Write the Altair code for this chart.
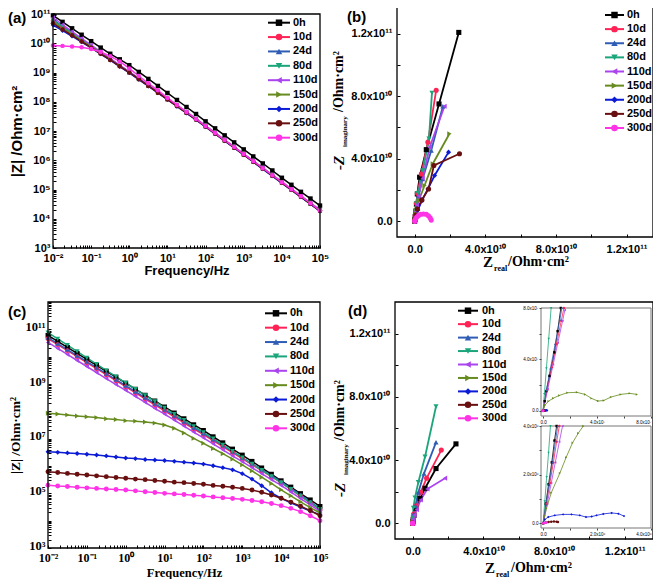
import altair as alt
import pandas as pd

W, H = 645, 571
SANS = "Liberation Sans"
SERIF = "Liberation Serif"

SERIES = ["0h", "10d", "24d", "80d", "110d", "150d", "200d", "250d", "300d"]
COLORS = ["#000000", "#FF2255", "#2F5DB5", "#1BA57B", "#AA44EE", "#668B1E", "#0B1BD6", "#6A0F0F", "#FF33E6"]
SHAPES = ["square", "circle", "triangle-up", "triangle-down", "triangle-left",
          "triangle-right", "diamond", "circle", "circle"]

LOG_FREQ = [-2.0, -1.75, -1.5, -1.25, -1.0, -0.75, -0.5, -0.25, 0.0, 0.25, 0.5, 0.75, 1.0, 1.25,
            1.5, 1.75, 2.0, 2.25, 2.5, 2.75, 3.0, 3.25, 3.5, 3.75, 4.0, 4.25, 4.5, 4.75, 5.0]

# ---- panel (a): log10 |Z| ----
A_0H = [10.95, 10.73, 10.51, 10.29, 10.07, 9.85, 9.64, 9.45, 9.25, 9.02, 8.78, 8.54, 8.30, 8.06, 7.82, 7.58, 7.33, 7.09, 6.85, 6.61, 6.37, 6.13, 5.89, 5.65, 5.40, 5.16, 4.92, 4.69, 4.45]
A_10D = [10.78, 10.55, 10.33, 10.10, 9.88, 9.66, 9.44, 9.22, 9.01, 8.78, 8.55, 8.32, 8.09, 7.86, 7.63, 7.40, 7.16, 6.92, 6.68, 6.44, 6.20, 5.96, 5.72, 5.48, 5.24, 5.00, 4.76, 4.52, 4.28]
A_24D = [10.81, 10.58, 10.35, 10.12, 9.90, 9.67, 9.45, 9.23, 9.01, 8.78, 8.55, 8.32, 8.09, 7.86, 7.63, 7.40, 7.16, 6.92, 6.68, 6.44, 6.20, 5.96, 5.72, 5.48, 5.24, 5.00, 4.76, 4.51, 4.27]
A_80D = [10.79, 10.56, 10.34, 10.11, 9.89, 9.67, 9.45, 9.23, 9.02, 8.79, 8.56, 8.33, 8.10, 7.87, 7.64, 7.41, 7.17, 6.93, 6.69, 6.45, 6.21, 5.97, 5.73, 5.49, 5.25, 5.01, 4.77, 4.53, 4.29]
A_110D = [10.88, 10.64, 10.40, 10.17, 9.94, 9.71, 9.48, 9.25, 9.03, 8.80, 8.57, 8.34, 8.11, 7.88, 7.65, 7.42, 7.18, 6.94, 6.70, 6.46, 6.22, 5.98, 5.74, 5.50, 5.26, 5.02, 4.78, 4.54, 4.30]
A_150D = [10.72, 10.51, 10.30, 10.09, 9.88, 9.66, 9.44, 9.22, 9.00, 8.77, 8.54, 8.31, 8.08, 7.85, 7.62, 7.39, 7.15, 6.91, 6.67, 6.43, 6.19, 5.95, 5.71, 5.47, 5.23, 4.99, 4.75, 4.51, 4.27]
A_200D = [10.62, 10.43, 10.24, 10.04, 9.84, 9.63, 9.42, 9.20, 8.99, 8.76, 8.53, 8.30, 8.07, 7.84, 7.61, 7.38, 7.14, 6.90, 6.66, 6.42, 6.18, 5.94, 5.70, 5.46, 5.22, 4.98, 4.74, 4.50, 4.26]
A_250D = [10.68, 10.47, 10.27, 10.06, 9.85, 9.64, 9.43, 9.21, 9.00, 8.77, 8.54, 8.31, 8.08, 7.85, 7.62, 7.39, 7.15, 6.91, 6.67, 6.43, 6.19, 5.95, 5.71, 5.47, 5.23, 4.99, 4.75, 4.51, 4.27]
A_300D = [9.92, 9.91, 9.89, 9.86, 9.80, 9.70, 9.56, 9.38, 9.14, 8.88, 8.63, 8.39, 8.13, 7.89, 7.65, 7.41, 7.17, 6.93, 6.69, 6.45, 6.21, 5.97, 5.73, 5.49, 5.25, 5.01, 4.77, 4.53, 4.28]
A_LISTS = [A_0H, A_10D, A_24D, A_80D, A_110D, A_150D, A_200D, A_250D, A_300D]

# ---- panel (c): log10 |Z| ----
C_0H = [10.78, 10.56, 10.34, 10.12, 9.90, 9.68, 9.46, 9.25, 9.03, 8.81, 8.59, 8.38, 8.16, 7.94, 7.73, 7.51, 7.30, 7.07, 6.85, 6.62, 6.40, 6.17, 5.93, 5.70, 5.46, 5.23, 4.99, 4.76, 4.52]
C_10D = [10.66, 10.44, 10.22, 10.00, 9.78, 9.56, 9.34, 9.12, 8.90, 8.68, 8.46, 8.24, 8.02, 7.80, 7.58, 7.36, 7.15, 6.93, 6.71, 6.49, 6.27, 6.05, 5.83, 5.61, 5.39, 5.14, 4.90, 4.65, 4.40]
C_24D = [10.70, 10.48, 10.26, 10.04, 9.82, 9.60, 9.38, 9.16, 8.94, 8.72, 8.50, 8.28, 8.06, 7.84, 7.62, 7.40, 7.19, 6.97, 6.75, 6.53, 6.31, 6.09, 5.87, 5.65, 5.43, 5.18, 4.94, 4.69, 4.44]
C_80D = [10.88, 10.65, 10.42, 10.19, 9.96, 9.73, 9.50, 9.27, 9.04, 8.81, 8.58, 8.36, 8.13, 7.90, 7.68, 7.45, 7.23, 7.00, 6.77, 6.54, 6.31, 6.08, 5.85, 5.62, 5.39, 5.15, 4.91, 4.66, 4.42]
C_110D = [10.52, 10.30, 10.08, 9.86, 9.64, 9.42, 9.20, 8.98, 8.77, 8.55, 8.33, 8.11, 7.90, 7.68, 7.46, 7.24, 7.03, 6.81, 6.59, 6.37, 6.16, 5.94, 5.72, 5.50, 5.29, 5.05, 4.81, 4.58, 4.34]
C_150D = [7.93, 7.90, 7.87, 7.83, 7.80, 7.77, 7.73, 7.70, 7.66, 7.64, 7.61, 7.57, 7.50, 7.38, 7.21, 7.01, 6.83, 6.64, 6.45, 6.25, 6.04, 5.82, 5.59, 5.36, 5.13, 4.91, 4.69, 4.48, 4.28]
C_200D = [6.52, 6.50, 6.48, 6.46, 6.43, 6.40, 6.37, 6.33, 6.29, 6.27, 6.24, 6.22, 6.20, 6.17, 6.14, 6.11, 6.07, 6.01, 5.94, 5.86, 5.72, 5.52, 5.28, 5.02, 4.82, 4.65, 4.50, 4.35, 4.22]
C_250D = [5.79, 5.76, 5.73, 5.70, 5.67, 5.64, 5.61, 5.58, 5.55, 5.52, 5.50, 5.47, 5.44, 5.41, 5.39, 5.36, 5.33, 5.29, 5.26, 5.22, 5.18, 5.12, 5.04, 4.94, 4.82, 4.68, 4.53, 4.37, 4.18]
C_300D = [5.30, 5.27, 5.25, 5.22, 5.20, 5.18, 5.16, 5.14, 5.12, 5.09, 5.06, 5.03, 5.00, 4.98, 4.96, 4.93, 4.90, 4.87, 4.84, 4.81, 4.78, 4.74, 4.69, 4.63, 4.55, 4.45, 4.33, 4.18, 4.00]
C_LISTS = [C_0H, C_10D, C_24D, C_80D, C_110D, C_150D, C_200D, C_250D, C_300D]

# ---- panel (b): Nyquist, units of 1e10 ----
B_RE_0H = [0.0, 0.01, 0.03, 0.06, 0.10, 0.15, 0.28, 0.66, 1.38, 2.50]
B_IM_0H = [0.0, 0.12, 0.30, 0.62, 1.10, 1.75, 2.82, 4.58, 7.50, 12.07]
B_RE_10D = [0.0, 0.01, 0.03, 0.06, 0.10, 0.16, 0.38, 0.75, 1.22]
B_IM_10D = [0.0, 0.15, 0.35, 0.70, 1.15, 1.79, 3.03, 5.06, 8.38]
B_RE_24D = [0.0, 0.01, 0.03, 0.06, 0.12, 0.22, 0.45, 0.94, 1.60]
B_IM_24D = [0.0, 0.12, 0.30, 0.60, 1.05, 1.65, 2.70, 4.53, 7.35]
B_RE_80D = [0.0, 0.01, 0.03, 0.05, 0.10, 0.19, 0.47, 0.81, 0.98]
B_IM_80D = [0.0, 0.15, 0.35, 0.70, 1.15, 1.80, 3.25, 5.28, 8.21]
B_RE_110D = [0.0, 0.01, 0.03, 0.06, 0.12, 0.22, 0.45, 0.85, 1.69]
B_IM_110D = [0.0, 0.13, 0.32, 0.62, 1.05, 1.62, 2.75, 4.74, 7.35]
B_RE_150D = [0.0, 0.01, 0.03, 0.06, 0.12, 0.23, 0.56, 1.03, 1.97]
B_IM_150D = [0.0, 0.10, 0.25, 0.48, 0.82, 1.32, 2.29, 3.68, 5.60]
B_RE_200D = [0.0, 0.01, 0.04, 0.09, 0.18, 0.41, 0.75, 1.13, 1.92]
B_IM_200D = [0.0, 0.08, 0.20, 0.40, 0.72, 1.32, 2.07, 2.93, 4.42]
B_RE_250D = [0.0, 0.01, 0.03, 0.07, 0.15, 0.41, 0.79, 1.09, 2.54]
B_IM_250D = [0.0, 0.07, 0.18, 0.40, 0.79, 1.37, 2.07, 3.57, 4.32]
B_RE_300D = [0.0, 0.02, 0.06, 0.12, 0.22, 0.35, 0.50, 0.66, 0.78, 0.88, 0.94]
B_IM_300D = [0.0, 0.08, 0.18, 0.28, 0.38, 0.45, 0.47, 0.45, 0.36, 0.22, 0.08]

# ---- panel (d): Nyquist, units of 1e10 ----
D_RE_0H = [0.0, 0.01, 0.03, 0.08, 0.18, 0.42, 0.70, 1.32, 2.45]
D_IM_0H = [0.0, 0.10, 0.25, 0.50, 0.95, 1.56, 2.21, 3.46, 5.02]
D_RE_10D = [0.0, 0.01, 0.03, 0.08, 0.20, 0.45, 0.79, 1.62]
D_IM_10D = [0.0, 0.12, 0.30, 0.60, 1.10, 1.95, 2.85, 4.63]
D_RE_24D = [0.0, 0.01, 0.02, 0.06, 0.15, 0.32, 0.64, 1.32]
D_IM_24D = [0.0, 0.12, 0.28, 0.60, 1.10, 1.95, 3.14, 5.12]
D_RE_80D = [0.0, 0.01, 0.02, 0.04, 0.13, 0.32, 0.70, 1.32]
D_IM_80D = [0.0, 0.15, 0.35, 0.97, 1.62, 2.59, 4.21, 7.39]
D_RE_110D = [0.0, 0.01, 0.04, 0.10, 0.23, 0.45, 0.83, 1.83]
D_IM_110D = [0.0, 0.10, 0.25, 0.50, 0.86, 1.47, 2.16, 2.85]

# ---- inset 1 of (d): units of 1e7 ----
I1_RE_0H = [0.0, 0.12, 0.24, 0.48, 0.84, 1.08, 1.32]
I1_IM_0H = [0.0, 0.75, 1.54, 2.72, 4.55, 6.20, 8.00]
I1_RE_10D = [0.0, 0.30, 0.65, 1.00, 1.35, 1.55]
I1_IM_10D = [0.0, 1.60, 3.40, 5.20, 7.00, 8.00]
I1_RE_24D = [0.0, 0.25, 0.55, 0.90, 1.25, 1.40]
I1_IM_24D = [0.0, 1.60, 3.30, 5.20, 7.10, 8.00]
I1_RE_80D = [0.0, 0.10, 0.25, 0.42, 0.60]
I1_IM_80D = [0.0, 1.30, 3.30, 5.60, 8.00]
I1_RE_110D = [0.0, 0.35, 0.75, 1.10, 1.45, 1.62]
I1_IM_110D = [0.0, 1.70, 3.60, 5.30, 7.00, 7.85]
I1_RE_150D = [0.0, 0.15, 0.40, 0.75, 1.20, 1.80, 2.51, 3.11, 3.59, 4.07, 4.50, 5.03, 5.75, 6.42, 6.95]
I1_IM_150D = [0.0, 0.45, 0.75, 0.98, 1.20, 1.41, 1.44, 1.28, 0.97, 0.76, 0.81, 1.07, 1.28, 1.36, 1.28]

# ---- inset 2 of (d): units of 1e6 ----
I2_RE_0H = [0.0, 0.10, 0.20, 0.32, 0.42, 0.50]
I2_IM_0H = [0.0, 0.80, 1.60, 2.50, 3.40, 4.00]
I2_RE_10D = [0.0, 0.12, 0.25, 0.38, 0.50, 0.60]
I2_IM_10D = [0.0, 0.80, 1.65, 2.50, 3.35, 4.00]
I2_RE_24D = [0.0, 0.10, 0.22, 0.34, 0.46, 0.54]
I2_IM_24D = [0.0, 0.75, 1.60, 2.50, 3.40, 4.00]
I2_RE_80D = [0.0, 0.06, 0.13, 0.20, 0.27]
I2_IM_80D = [0.0, 0.90, 1.90, 2.90, 4.00]
I2_RE_110D = [0.0, 0.15, 0.30, 0.45, 0.60, 0.72]
I2_IM_110D = [0.0, 0.80, 1.65, 2.50, 3.35, 4.00]
I2_RE_150D = [0.0, 0.06, 0.12, 0.30, 0.62, 0.85, 1.09, 1.30, 1.49]
I2_IM_150D = [0.0, 0.30, 0.60, 1.25, 2.06, 2.70, 3.31, 3.70, 4.00]
I2_RE_200D = [0.0, 0.06, 0.19, 0.43, 0.74, 1.05, 1.36, 1.59, 1.80, 1.98, 2.23, 2.54, 2.79, 3.00]
I2_IM_200D = [0.0, 0.15, 0.25, 0.32, 0.36, 0.36, 0.32, 0.25, 0.27, 0.32, 0.38, 0.42, 0.39, 0.29]
I2_RE_250D = [0.0, 0.10, 0.20, 0.30, 0.40, 0.50, 0.55]
I2_IM_250D = [0.0, 0.03, 0.05, 0.06, 0.07, 0.06, 0.05]
I2_RE_300D = [0.0, 0.04, 0.08, 0.12]
I2_IM_300D = [0.0, 0.01, 0.02, 0.02]

NYQ_TICKS = [0.0, 2e10, 4e10, 6e10, 8e10, 1e11, 1.2e11]
NYQ_LABELS = ["0.0", "", "4.0x10\u00b9\u2070", "", "8.0x10\u00b9\u2070", "", "1.2x10\u00b9\u00b9"]
IN1_TICKS = [0.0, 2e7, 4e7, 6e7, 8e7]
IN1_LABELS = ["0.0", "", "4.0x10\u2077", "", "8.0x10\u2077"]
IN2_TICKS = [0.0, 1e6, 2e6, 3e6, 4e6]
IN2_LABELS = ["0.0", "", "2.0x10\u2076", "", "4.0x10\u2076"]

BODE_X_TICKS = [m * 10.0 ** e for e in range(-2, 5) for m in range(1, 10)] + [1e5]
BODE_YA_TICKS = [m * 10.0 ** e for e in range(3, 11) for m in range(1, 10)] + [1e11]
BODE_YC_TICKS = [m * 10.0 ** e for e in range(3, 12) for m in range(1, 10)] + [1e12]

# ---------------- helpers ----------------
COLOR_SCALE = alt.Scale(domain=SERIES, range=COLORS)
SHAPE_SCALE = alt.Scale(domain=SERIES, range=SHAPES)
TICK = 3

SUP = "['\u2070','\u00b9','\u00b2','\u00b3','\u2074','\u2075','\u2076','\u2077','\u2078','\u2079']"
EXP = "round(log(datum.value)/LN10)"
IS_DEC = f"abs(log(datum.value)/LN10 - {EXP}) < 0.001"
POW_LABEL = (f"'10' + ({EXP} < 0 ? '\u207b' : '') + (abs({EXP}) >= 10 ? {SUP}[floor(abs({EXP})/10)] : '')"
             f" + {SUP}[abs({EXP}) % 10]")
EXPR_ALL = f"({IS_DEC}) ? {POW_LABEL} : ''"
EXPR_ODD = f"(({IS_DEC}) && ({EXP} % 2 == 1)) ? {POW_LABEL} : ''"


def tick_expr(values, labels):
    tol = (values[1] - values[0]) * 1e-3
    e = "''"
    for v, lab in reversed(list(zip(values, labels))):
        e = f"(abs(datum.value - ({v!r})) < {tol!r} ? '{lab}' : {e})"
    return e


def bode_df(lists):
    rows = []
    for s, vals in zip(SERIES, lists):
        for lf, lz in zip(LOG_FREQ, vals):
            rows.append({"series": s, "xv": 10 ** lf, "yv": 10 ** lz})
    return pd.DataFrame(rows)


def nyq_df(parts):
    rows = []
    for s, re_, im_, unit in parts:
        for k, (a, b) in enumerate(zip(re_, im_)):
            rows.append({"series": s, "k": k, "xv": a * unit, "yv": b * unit})
    return pd.DataFrame(rows)


def x_axis(ypos, values, expr, font, fsize, gap, title=None, title_dy=0, tfont=SANS, tsize=13):
    kw = dict(orient="top", offset=-ypos, values=values, labelExpr=expr, tickSize=TICK,
              tickColor="black", tickWidth=1, labelPadding=-(TICK + gap), labelBaseline="top",
              labelAlign="center", labelFont=font, labelFontSize=fsize, labelFontWeight="bold",
              labelColor="black", labelFlush=False, labelOverlap=False, domain=False, grid=False)
    if title:
        kw.update(title=title, titleY=title_dy, titleBaseline="middle", titleAlign="center",
                  titleFont=tfont, titleFontSize=tsize, titleFontWeight="bold", titleColor="black")
    else:
        kw.update(title=None)
    return alt.Axis(**kw)


def y_axis(xpos, values, expr, font, fsize, gap, title=None, title_dx=0, title_y=0, tfont=SANS, tsize=13,
           loff=0):
    kw = dict(orient="right", offset=xpos - W, values=values, labelExpr=expr, tickSize=TICK,
              tickColor="black", tickWidth=1, labelPadding=-(TICK + gap), labelBaseline="middle",
              labelAlign="right", labelFont=font, labelFontSize=fsize, labelFontWeight="bold",
              labelColor="black", labelFlush=False, labelOverlap=False, domain=False, grid=False,
              labelOffset=loff)
    if title:
        kw.update(title=title, titleX=title_dx, titleY=title_y, titleAngle=270, titleBaseline="middle",
                  titleAlign="center", titleFont=tfont, titleFontSize=tsize, titleFontWeight="bold",
                  titleColor="black")
    else:
        kw.update(title=None)
    return alt.Axis(**kw)


def inset_axis(orient, pos, values, labels):
    off = pos - H if orient == "bottom" else -pos
    return alt.Axis(orient=orient, offset=off, values=values, labelExpr=tick_expr(values, labels),
                    tickSize=2, tickColor="#444", labelPadding=1, labelFont=SANS, labelFontSize=4.5,
                    labelColor="black", labelFlush=(orient == "bottom"), labelOverlap=False, domain=False,
                    grid=False, title=None, zindex=1)


def panel(df, xs, ys, xa, ya, psize, lw, ordered, xdom, ydom, fill_op, stroke, sw, frame_first):
    X = lambda f: alt.X(f"{f}:Q", scale=xs, axis=xa)
    Y = lambda f: alt.Y(f"{f}:Q", scale=ys, axis=ya)
    color = alt.Color("series:N", scale=COLOR_SCALE, legend=None)
    line_enc = dict(x=X("xv"), y=Y("yv"), color=color)
    if ordered:
        line_enc["order"] = alt.Order("k:Q")
    line = alt.Chart(df).mark_line(strokeWidth=lw).encode(**line_enc)
    pts = alt.Chart(df).mark_point(filled=True, size=psize, opacity=1).encode(
        x=X("xv"), y=Y("yv"), color=color,
        shape=alt.Shape("series:N", scale=SHAPE_SCALE, legend=None))
    fdf = pd.DataFrame({"x0": [xdom[0]], "x1": [xdom[1]], "y0": [ydom[0]], "y1": [ydom[1]]})
    frame = alt.Chart(fdf).mark_rect(fill="white", fillOpacity=fill_op, stroke=stroke, strokeWidth=sw).encode(
        x=X("x0"), x2="x1:Q", y=Y("y0"), y2="y1:Q")
    parts = [frame, line, pts] if frame_first else [line, pts, frame]
    return alt.layer(*parts)


def legend(y0, y1, lx0, lx1, tx):
    ldf = pd.DataFrame({"series": SERIES})
    Yl = alt.Y("series:N", scale=alt.Scale(type="point", domain=SERIES, range=[y0, y1], padding=0), axis=None)
    color = alt.Color("series:N", scale=COLOR_SCALE, legend=None)
    rule = alt.Chart(ldf).mark_rule(strokeWidth=2).encode(x=alt.value(lx0), x2=alt.value(lx1), y=Yl, color=color)
    pt = alt.Chart(ldf).mark_point(filled=True, size=42, opacity=1).encode(
        x=alt.value((lx0 + lx1) / 2), y=Yl, color=color,
        shape=alt.Shape("series:N", scale=SHAPE_SCALE, legend=None))
    txt = alt.Chart(ldf).mark_text(align="left", baseline="middle", font=SANS, fontSize=11,
                                   fontWeight="bold", color="black").encode(x=alt.value(tx), y=Yl, text="series:N")
    return alt.layer(rule, pt, txt)


def text(t, x, y, font, size, style="normal", angle=0, baseline="middle", align="left"):
    return alt.Chart(pd.DataFrame({"t": [t]})).mark_text(
        align=align, baseline=baseline, font=font, fontSize=size, fontWeight="bold",
        fontStyle=style, angle=angle, color="black").encode(x=alt.value(x), y=alt.value(y), text="t:N")


# ---------------- panels ----------------
NYQ_EXPR = tick_expr(NYQ_TICKS, NYQ_LABELS)

# (a)
A_XD, A_YD = [1e-2, 1e5], [1e3, 1e11]
xs_a = alt.Scale(type="log", domain=A_XD, range=[45, 312], nice=False)
ys_a = alt.Scale(type="log", domain=A_YD, range=[240, 6], nice=False)
pa = panel(bode_df(A_LISTS), xs_a, ys_a,
           x_axis(240, BODE_X_TICKS, EXPR_ALL, SANS, 11, 4, "Frequency/Hz", 22, SANS, 13),
           y_axis(45, BODE_YA_TICKS, EXPR_ALL, SANS, 11, 3, "|Z| /Ohm\u00b7cm\u00b2", -37, 123, SANS, 15),
           20, 1.5, False, A_XD, A_YD, 0, "black", 1.3, False)

# (b)
B_XD, B_YD = [-1e10, 1.35e11], [-1e10, 1.363e11]
B_FRAME_Y = [-1e10, 1.45e11]
xs_b = alt.Scale(domain=B_XD, range=[389, 645], nice=False, zero=False)
ys_b = alt.Scale(domain=B_YD, range=[229, 0], nice=False, zero=False)
b_parts = [("0h", B_RE_0H, B_IM_0H, 1e10), ("10d", B_RE_10D, B_IM_10D, 1e10),
           ("24d", B_RE_24D, B_IM_24D, 1e10), ("80d", B_RE_80D, B_IM_80D, 1e10),
           ("110d", B_RE_110D, B_IM_110D, 1e10), ("150d", B_RE_150D, B_IM_150D, 1e10),
           ("200d", B_RE_200D, B_IM_200D, 1e10), ("250d", B_RE_250D, B_IM_250D, 1e10),
           ("300d", B_RE_300D, B_IM_300D, 1e10)]
pb = panel(nyq_df(b_parts), xs_b, ys_b,
           x_axis(229, NYQ_TICKS, NYQ_EXPR, SANS, 11, 6),
           y_axis(389, NYQ_TICKS, NYQ_EXPR, SANS, 11, 5),
           26, 1.8, True, B_XD, B_FRAME_Y, 0, "black", 1.3, False)

# (c)
C_XD, C_YD = [1e-2, 1e5], [1e3, 1e12]
xs_c = alt.Scale(type="log", domain=C_XD, range=[40, 312], nice=False)
ys_c = alt.Scale(type="log", domain=C_YD, range=[540, 294], nice=False)
pc = panel(bode_df(C_LISTS), xs_c, ys_c,
           x_axis(540, BODE_X_TICKS, EXPR_ALL, SERIF, 12, 4, "Frequency/Hz", 24.5, SERIF, 12.5),
           y_axis(40, BODE_YC_TICKS, EXPR_ODD, SERIF, 12.5, 3, "|Z| /Ohm\u00b7cm\u00b2", -33, 427, SERIF, 13.5,
                  loff=-3),
           24, 1.5, False, C_XD, C_YD, 0, "black", 1.3, False)

# (d)
D_XD, D_YD = [-1e10, 1.36e11], [-1e10, 1.4e11]
xs_d = alt.Scale(domain=D_XD, range=[387, 645], nice=False, zero=False)
ys_d = alt.Scale(domain=D_YD, range=[531, 294], nice=False, zero=False)
d_parts = [("0h", D_RE_0H, D_IM_0H, 1e10), ("10d", D_RE_10D, D_IM_10D, 1e10),
           ("24d", D_RE_24D, D_IM_24D, 1e10), ("80d", D_RE_80D, D_IM_80D, 1e10),
           ("110d", D_RE_110D, D_IM_110D, 1e10), ("150d", I1_RE_150D, I1_IM_150D, 1e7),
           ("200d", I2_RE_200D, I2_IM_200D, 1e6), ("250d", I2_RE_250D, I2_IM_250D, 1e6),
           ("300d", I2_RE_300D, I2_IM_300D, 1e6)]
pd_ = panel(nyq_df(d_parts), xs_d, ys_d,
            x_axis(531, NYQ_TICKS, NYQ_EXPR, SANS, 11, 6),
            y_axis(387, NYQ_TICKS, NYQ_EXPR, SANS, 11, 5),
            26, 1.8, True, D_XD, D_YD, 0, "black", 1.3, False)

# inset 1
I1_XD, I1_YD = [-1.5e6, 8e7], [-4e6, 8e7]
xs_i1 = alt.Scale(domain=I1_XD, range=[533, 643], nice=False, zero=False)
ys_i1 = alt.Scale(domain=I1_YD, range=[408, 300], nice=False, zero=False)
i1_parts = [("0h", I1_RE_0H, I1_IM_0H, 1e7), ("10d", I1_RE_10D, I1_IM_10D, 1e7),
            ("24d", I1_RE_24D, I1_IM_24D, 1e7), ("80d", I1_RE_80D, I1_IM_80D, 1e7),
            ("110d", I1_RE_110D, I1_IM_110D, 1e7), ("150d", I1_RE_150D, I1_IM_150D, 1e7),
            ("200d", I2_RE_200D, I2_IM_200D, 1e6), ("250d", I2_RE_250D, I2_IM_250D, 1e6),
            ("300d", I2_RE_300D, I2_IM_300D, 1e6)]
pi1 = panel(nyq_df(i1_parts), xs_i1, ys_i1,
            inset_axis("bottom", 408, IN1_TICKS, IN1_LABELS),
            inset_axis("left", 533, IN1_TICKS, IN1_LABELS),
            6, 0.8, True, I1_XD, I1_YD, 1, "#777777", 1, True)

# inset 2
I2_XD, I2_YD = [-8e4, 4e6], [-2e5, 4e6]
xs_i2 = alt.Scale(domain=I2_XD, range=[533, 643], nice=False, zero=False)
ys_i2 = alt.Scale(domain=I2_YD, range=[520, 418], nice=False, zero=False)
i2_parts = [("0h", I2_RE_0H, I2_IM_0H, 1e6), ("10d", I2_RE_10D, I2_IM_10D, 1e6),
            ("24d", I2_RE_24D, I2_IM_24D, 1e6), ("80d", I2_RE_80D, I2_IM_80D, 1e6),
            ("110d", I2_RE_110D, I2_IM_110D, 1e6), ("150d", I2_RE_150D, I2_IM_150D, 1e6),
            ("200d", I2_RE_200D, I2_IM_200D, 1e6), ("250d", I2_RE_250D, I2_IM_250D, 1e6),
            ("300d", I2_RE_300D, I2_IM_300D, 1e6)]
pi2 = panel(nyq_df(i2_parts), xs_i2, ys_i2,
            inset_axis("bottom", 520, IN2_TICKS, IN2_LABELS),
            inset_axis("left", 533, IN2_TICKS, IN2_LABELS),
            6, 0.8, True, I2_XD, I2_YD, 1, "#777777", 1, True)

texts = [
    text("(a)", 0, 3, SANS, 15, baseline="top"),
    text("(b)", 339, 2, SANS, 15, baseline="top"),
    text("(c)", 0, 297, SANS, 15, baseline="top"),
    text("(d)", 340, 296, SANS, 15, baseline="top"),
    # (b) axis titles
    text("Z", 475, 254, SERIF, 15),
    text("real", 486, 261, SERIF, 8),
    text("/Ohm\u00b7cm\u00b2", 500, 254, SERIF, 14),
    text("-Z", 331, 162, SERIF, 15, style="italic", angle=270),
    text("imaginary", 337, 139, SERIF, 7, angle=270),
    text("/Ohm\u00b7cm\u00b2", 331, 104, SERIF, 14, angle=270),
    # (d) axis titles
    text("Z", 477, 560, SERIF, 15),
    text("real", 488, 567, SERIF, 8),
    text("/Ohm\u00b7cm\u00b2", 503, 560, SERIF, 14),
    text("-Z", 332, 489, SERIF, 15, style="italic", angle=270),
    text("imaginary", 338, 467, SERIF, 7, angle=270),
    text("/Ohm\u00b7cm\u00b2", 332, 433, SERIF, 14, angle=270),
]

layers = [pa, legend(14.7, 129.7, 260, 282, 285),
          pb, legend(7, 120, 597, 616, 619),
          pc, legend(305.3, 420.3, 257, 279, 282),
          pd_, pi1, pi2, legend(302.7, 410.3, 450, 470, 474)] + texts

chart = alt.layer(*layers).resolve_scale(x="independent", y="independent").properties(
    width=W, height=H, padding=0, autosize=alt.AutoSizeParams(type="none")
).configure_view(strokeOpacity=0)

chart.save("out.html", embed_options={"renderer": "svg", "actions": False})
